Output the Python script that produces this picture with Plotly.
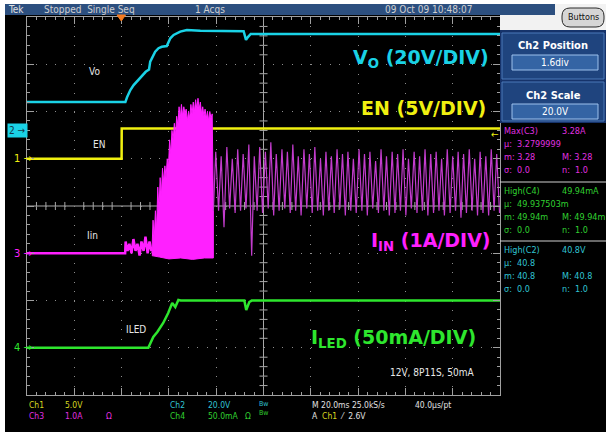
import plotly.graph_objects as go

# ---------------- data (time in ms, trigger at t = 0) ----------------
# Ch2 : Vo (V)
vo_t = [-40, 1.6, 2.3, 3.7, 5.1, 7.9, 10.2, 11.6, 12.1, 12.8, 14.2, 15.6, 17.0, 19.1,
        20.6, 22.0, 24.8, 27.6, 33.3, 51.6, 52.6, 53.4, 54.6, 160]
vo_v = [12.0, 12.0, 14.0, 17.1, 19.2, 22.5, 24.8, 25.8, 29.1, 30.5, 33.3, 34.8, 35.4, 35.7,
        39.0, 40.4, 41.8, 42.5, 42.2, 42.0, 38.3, 39.5, 40.8, 40.8]

# Ch1 : EN (V)
en_t = [-40, 0.0, 0.05, 160]
en_v = [0.0, 0.0, 3.2, 3.2]

# Ch4 : ILED (mA)
iled_t = [-40, 11.3, 13.4, 15.1, 17.6, 19.7, 21.4, 22.7, 24.0, 25.0, 51.9, 52.7, 54.0, 55.0, 160]
iled_ma = [0, 0, 11.4, 16.7, 26.2, 36.8, 47.3, 43.1, 50.5, 49.9, 49.9, 40.0, 48.4, 49.9, 49.9]

# Ch3 : Iin (A) -- baseline and pre-burst ripple
iin_pre_t = [-40, 1.5, 1.7, 2.5, 3.3, 4.2, 5.0, 5.9, 6.7, 7.6, 8.4, 9.3, 10.1, 11.0, 11.8, 12.6]
iin_pre_a = [0, 0, 0.25, 0.05, 0.2, 0.0, 0.3, 0.05, 0.2, -0.05, 0.25, 0.05, 0.35, 0.0, 0.25, 0.05]

# start-up burst: upper (spiky) envelope and lower envelope (A)
burst_t = [12.8, 13.3, 13.8, 14.3, 14.8, 15.3, 15.8, 16.3, 16.8, 17.3, 17.8, 18.3, 18.8,
           19.3, 19.8, 20.3, 20.8, 21.3, 21.8, 22.3, 22.8, 23.3, 23.8, 24.3, 24.8, 25.3,
           25.8, 26.3, 26.8, 27.3, 27.8, 28.3, 28.8, 29.3, 29.8, 30.3, 30.8, 31.3, 31.8,
           32.3, 32.8, 33.3, 33.8, 34.3, 34.8, 35.3, 35.8, 36.3, 36.8, 37.3, 37.8, 38.3, 38.8]
burst_hi = [0.0, 0.7, 0.3, 0.9, 0.5, 1.4, 0.9, 1.6, 1.2, 1.8, 1.5, 1.85, 1.6,
            2.0, 1.8, 2.4, 2.1, 2.6, 2.4, 2.75, 2.5, 2.9, 2.7, 3.1, 2.85, 3.15,
            2.9, 3.1, 2.95, 3.05, 2.8, 3.0, 2.85, 3.15, 2.95, 3.2, 3.0, 3.25, 3.05,
            3.28, 3.05, 3.2, 2.95, 3.1, 2.9, 3.05, 2.85, 3.0, 2.8, 3.0, 2.85, 2.95, 0.9]
burst_lo_t = [12.8, 16.0, 20.0, 25.0, 30.0, 35.0, 38.8]
burst_lo = [-0.05, -0.08, -0.12, -0.1, -0.13, -0.1, -0.1]

# steady switching ripple after the burst (A)
osc_peak_t = [39.8, 42.1, 44.5, 46.8, 49.1, 51.4, 53.8, 56.1, 58.4, 60.8, 63.1, 65.4, 67.8,
              70.1, 72.4, 74.7, 77.1, 79.4, 81.7, 84.1, 86.4, 88.7, 91.1, 93.4, 95.7, 98.0,
              100.4, 102.7, 105.0, 107.4, 109.7, 112.0, 114.4, 116.7, 119.0, 121.3, 123.7,
              126.0, 128.3, 130.7, 133.0, 135.3, 137.7, 140.0, 142.3, 144.6, 147.0, 149.3,
              151.6, 154.0, 156.3, 158.6]
osc_peak_a = [2.15, 2.05, 2.25, 2.0, 2.2, 2.1, 2.3, 2.05, 2.25, 2.15,
              2.35, 2.1, 2.2, 2.15, 2.3, 2.05, 2.2, 2.1, 2.25, 2.0,
              2.15, 2.05, 2.2, 2.1, 2.15, 2.0, 2.2, 2.1, 2.15, 1.95,
              2.2, 2.05, 2.15, 2.1, 2.2, 2.0, 2.15, 2.05, 2.2, 2.1,
              2.15, 2.0, 2.2, 2.05, 2.15, 2.1, 2.2, 2.0, 2.15, 2.05,
              2.2, 2.1]
osc_trough_t = [41.0, 43.3, 45.7, 48.0, 50.3, 52.6, 55.0, 57.3, 59.6, 62.0, 64.3, 66.6, 69.0,
                71.3, 73.6, 75.9, 78.3, 80.6, 82.9, 85.3, 87.6, 89.9, 92.3, 94.6, 96.9, 99.2,
                101.6, 103.9, 106.2, 108.6, 110.9, 113.2, 115.6, 117.9, 120.2, 122.5, 124.9,
                127.2, 129.5, 131.9, 134.2, 136.5, 138.9, 141.2, 143.5, 145.8, 148.2, 150.5,
                152.8, 155.2, 157.5, 159.8]
osc_trough_a = [0.9, 0.55, 0.95, 0.85, 0.9, 0.95, -0.05, 0.9, 0.85, 0.95,
                0.8, 0.9, 0.95, 0.85, 0.9, 0.8, 0.95, 0.85, 0.9, 0.8,
                0.9, 0.85, 0.95, 0.8, 0.9, 0.85, 0.9, 0.8, 0.95, 0.85,
                0.9, 0.8, 0.85, 0.9, 0.8, 0.95, 0.85, 0.9, 0.8, 0.85,
                0.9, 0.8, 0.85, 0.9, 0.75, 0.85, 0.9, 0.8, 0.85, 0.8,
                0.9, 0.85]

# measurement readouts
meas_rows = [
    ("Max(C3)", "3.28A", "μ:  3.2799999", "m: 3.28", "M: 3.28", "σ:  0.0", "n:  1.0", "#e030e0"),
    ("High(C4)", "49.94mA", "μ:  49.937503m", "m: 49.94m", "M: 49.94m", "σ:  0.0", "n:  1.0", "#30d030"),
    ("High(C2)", "40.8V", "μ:  40.8", "m: 40.8", "M: 40.8", "σ:  0.0", "n:  1.0", "#30c4d4"),
]

# ---------------- scope settings ----------------
T_RANGE = [-40, 160]          # 20 ms/div, 10 divisions
CH_SCALE = {"vo": 20.0, "en": 5.0, "iin": 1.0, "iled": 50.0}
CH_POS = {"vo": 1.6, "en": 1.0, "iin": -1.0, "iled": -3.0}

C_VO = "#1ad2e6"
C_EN = "#f0f010"
C_IIN = "#ff20ff"
C_IIN2 = "#c23ccc"
C_ILED = "#2ee62e"
T_YEL = "#d8d820"
T_MAG = "#e030e0"
T_CYA = "#30c4d4"
T_GRN = "#30d030"
GRID = "#8c8c8c"
NARROW = "Liberation Sans Narrow, DejaVu Sans Condensed, Liberation Sans, sans-serif"
BIG = "DejaVu Sans, Verdana, sans-serif"

W, H = 606, 432
L, R, T, B = 27, 500, 17, 395
PW, PH = R - L, B - T


def fx(x):
    return (x - L) / PW


def fy(y):
    return (B - y) / PH


def ch_range(ch):
    s, p = CH_SCALE[ch], CH_POS[ch]
    return [(-4 - p) * s, (4 - p) * s]


fig = go.Figure()

# Iin
fig.add_trace(go.Scatter(x=iin_pre_t, y=iin_pre_a, yaxis="y4", mode="lines",
                         line=dict(color=C_IIN, width=2.5)))
poly_x = burst_t + burst_lo_t[::-1]
poly_y = burst_hi + burst_lo[::-1]
fig.add_trace(go.Scatter(x=poly_x, y=poly_y, yaxis="y4", mode="lines", fill="toself",
                         fillcolor=C_IIN, line=dict(color=C_IIN, width=1)))
osc_x, osc_y = [38.8], [0.9]
for pt, pa, tt, ta in zip(osc_peak_t, osc_peak_a, osc_trough_t, osc_trough_a):
    osc_x += [pt, tt]
    osc_y += [pa, ta]
fig.add_trace(go.Scatter(x=osc_x, y=osc_y, yaxis="y4", mode="lines",
                         line=dict(color=C_IIN2, width=1.2)))
# ILED
fig.add_trace(go.Scatter(x=iled_t, y=iled_ma, yaxis="y5", mode="lines",
                         line=dict(color=C_ILED, width=2.5)))
# Vo
fig.add_trace(go.Scatter(x=vo_t, y=vo_v, yaxis="y2", mode="lines",
                         line=dict(color=C_VO, width=2.5)))
# EN
fig.add_trace(go.Scatter(x=en_t, y=en_v, yaxis="y3", mode="lines",
                         line=dict(color=C_EN, width=2.5)))

hidden = dict(overlaying="y", visible=False, fixedrange=True)
fig.update_layout(
    width=W, height=H, showlegend=False,
    margin=dict(l=L, r=W - R, t=T, b=H - B, pad=0),
    paper_bgcolor="black", plot_bgcolor="black",
    xaxis=dict(range=T_RANGE, dtick=20, tick0=-40, showgrid=True, gridcolor=GRID,
               griddash="1px,8.46px", gridwidth=1, zeroline=False,
               showline=True, linecolor="#a0a0a0", linewidth=1, mirror="ticks",
               ticks="inside", ticklen=7, tickcolor="#a0a0a0", showticklabels=False,
               minor=dict(dtick=4, tick0=-40, ticks="inside", ticklen=3, tickcolor="#a0a0a0")),
    yaxis=dict(range=[-4, 4], dtick=1, tick0=-4, showgrid=True, gridcolor=GRID,
               griddash="1px,8.46px", gridwidth=1, zeroline=False,
               showline=True, linecolor="#a0a0a0", linewidth=1, mirror="ticks",
               ticks="inside", ticklen=7, tickcolor="#a0a0a0", showticklabels=False,
               minor=dict(dtick=0.2, tick0=-4, ticks="inside", ticklen=3, tickcolor="#a0a0a0")),
    yaxis2=dict(range=ch_range("vo"), **hidden),
    yaxis3=dict(range=ch_range("en"), **hidden),
    yaxis4=dict(range=ch_range("iin"), **hidden),
    yaxis5=dict(range=ch_range("iled"), **hidden),
)

shapes = []
# center cross
shapes.append(dict(type="line", xref="x", yref="y", x0=60, x1=60, y0=-4, y1=4,
                   line=dict(color="#a8a8a8", width=1), layer="below"))
shapes.append(dict(type="line", xref="x", yref="y", x0=-40, x1=160, y0=0, y1=0,
                   line=dict(color="#a8a8a8", width=1), layer="below"))
for k in range(-20, 21):
    if k % 5 == 0:
        continue
    shapes.append(dict(type="line", xref="x", yref="y", x0=58.3, x1=61.7, y0=k * 0.2, y1=k * 0.2,
                       line=dict(color="#a8a8a8", width=1), layer="below"))
for j in range(51):
    if j % 5 == 0:
        continue
    t = -40 + 4 * j
    shapes.append(dict(type="line", xref="x", yref="y", x0=t, x1=t, y0=-0.085, y1=0.085,
                       line=dict(color="#a8a8a8", width=1), layer="below"))


def rect(x0, y0, x1, y1, fill, line=None, lw=0):
    shapes.append(dict(type="rect", xref="paper", yref="paper",
                       x0=fx(x0), x1=fx(x1), y0=fy(y1), y1=fy(y0),
                       fillcolor=fill, line=dict(color=line or fill, width=lw)))


def rounded(x0, y0, x1, y1, r, fill, line, lw=1):
    p = (f"M {fx(x0 + r)},{fy(y0)} L {fx(x1 - r)},{fy(y0)} Q {fx(x1)},{fy(y0)} {fx(x1)},{fy(y0 + r)} "
         f"L {fx(x1)},{fy(y1 - r)} Q {fx(x1)},{fy(y1)} {fx(x1 - r)},{fy(y1)} "
         f"L {fx(x0 + r)},{fy(y1)} Q {fx(x0)},{fy(y1)} {fx(x0)},{fy(y1 - r)} "
         f"L {fx(x0)},{fy(y0 + r)} Q {fx(x0)},{fy(y0)} {fx(x0 + r)},{fy(y0)} Z")
    shapes.append(dict(type="path", xref="paper", yref="paper", path=p,
                       fillcolor=fill, line=dict(color=line, width=lw)))


# frame / chrome
rect(0, 0, 5, H, "#ffffff")
rect(0, 0, W, 4, "#ffffff")
rect(500, 4, W, 30, "#f2f2f2")
rect(5, 4, 555, 15, "#2c4f7f")
rounded(562, 8, 604, 27, 8, "#d6d6d6", "#2a2a2a", 1)
rect(500, 30, W, 123, "#16336a")
rect(502, 33, 604, 79, "#1f447e", "#4a78b8", 1)
rect(502, 82, 604, 121, "#1f447e", "#4a78b8", 1)
rect(512, 55, 598, 70, "#3464a4", "#9cc0ec", 1)
rect(512, 104, 598, 119, "#3464a4", "#9cc0ec", 1)
# measurement dividers
for yy in (182, 241):
    shapes.append(dict(type="line", xref="paper", yref="paper", x0=fx(500), x1=fx(606),
                       y0=fy(yy), y1=fy(yy), line=dict(color="#d0d0d0", width=1)))
# trigger position marker
shapes.append(dict(type="path", xref="paper", yref="paper",
                   path=f"M {fx(117)},{fy(15)} L {fx(125.5)},{fy(15)} L {fx(121.3)},{fy(21)} Z",
                   fillcolor="#f47b20", line=dict(color="#f47b20", width=1)))
fig.update_layout(shapes=shapes)

anns = []


def ann(x, y, text, color, size, xanchor="left", family=NARROW, **kw):
    anns.append(dict(xref="paper", yref="paper", x=fx(x), y=fy(y), text=text,
                     showarrow=False, xanchor=xanchor, yanchor="middle", align="left",
                     font=dict(color=color, size=size, family=family), **kw))


def span(text, color):
    return f"<span style='color:{color}'>{text}</span>"


# top bar
ann(6, 9.5, "Tek", "#e0e0e0", 10)
ann(42, 9.5, "Stopped  Single Seq", "#d0d0d0", 10)
ann(193, 9.5, "1 Acqs", "#d0d0d0", 10)
ann(383, 9.5, "09 Oct 09 10:48:07", "#d0d0d0", 10)
ann(583, 17.5, "Buttons", "#111111", 9, xanchor="center")
# right panel
ann(553, 45, "<b>Ch2 Position</b>", "#ffffff", 11, xanchor="center")
ann(555, 62.5, "1.6div", "#ffffff", 10, xanchor="center")
ann(553, 95, "<b>Ch2 Scale</b>", "#ffffff", 11, xanchor="center")
ann(555, 111.5, "20.0V", "#ffffff", 10, xanchor="center")
# measurements
MS = 9
y0s = [131, 191, 250]
for (name, val, mu, mm, MM, sg, nn, col), y0 in zip(meas_rows, y0s):
    ann(502, y0, name, col, MS)
    ann(560, y0, val, col, MS)
    ann(502, y0 + 13, mu, col, MS)
    ann(502, y0 + 26, mm, col, MS)
    ann(560, y0 + 26, MM, col, MS)
    ann(502, y0 + 39, sg, col, MS)
    ann(560, y0 + 39, nn, col, MS)

# channel ground markers
anns.append(dict(xref="paper", yref="paper", x=fx(7), y=fy(130.4), text="2 →", showarrow=False,
                 xanchor="left", yanchor="middle", bgcolor=C_VO, borderpad=1,
                 font=dict(color="#14384a", size=10, family=NARROW)))
ann(12, 158.75, "1 →", C_EN, 11)
ann(12, 253.25, "3 →", C_IIN, 11)
ann(12, 347.75, "4 →", C_ILED, 11)
ann(489, 134, "←", C_EN, 10)

# trace names
ann(94, 71, "Vo", "#e8e8e8", 10, xanchor="center")
ann(99, 144, "EN", "#e8e8e8", 10, xanchor="center")
ann(92, 235, "Iin", "#e8e8e8", 10, xanchor="center")
ann(136, 329, "ILED", "#e8e8e8", 10, xanchor="center")
ann(432, 372, "12V, 8P11S, 50mA", "#e8e8e8", 10, xanchor="center")

# big channel labels
ann(491, 58, "<b>V<sub>O</sub> (20V/DIV)</b>", C_VO, 19, xanchor="right", family=BIG)
ann(488, 108, "<b>EN (5V/DIV)</b>", C_EN, 19, xanchor="right", family=BIG)
ann(493, 241, "<b>I<sub>IN</sub> (1A/DIV)</b>", C_IIN, 19, xanchor="right", family=BIG)
ann(478, 338, "<b>I<sub>LED</sub> (50mA/DIV)</b>", C_ILED, 19, xanchor="right", family=BIG)

# bottom readout (two lines per column)
BS = 8.5
BY = 410
ann(27, BY, span("Ch1", T_YEL) + "<br>" + span("Ch3", T_MAG), "#e0e0e0", BS)
ann(63, BY, span("5.0V", T_YEL) + "<br>" + span("1.0A", T_MAG), "#e0e0e0", BS)
ann(104, BY, " <br>" + span("Ω", T_MAG), "#e0e0e0", BS)
ann(168, BY, span("Ch2", T_CYA) + "<br>" + span("Ch4", T_GRN), "#e0e0e0", BS)
ann(206, BY, span("20.0V", T_CYA) + "<br>" + span("50.0mA", T_GRN), "#e0e0e0", BS)
ann(243, BY, " <br>" + span("Ω", T_GRN), "#e0e0e0", BS)
ann(257, BY - 2, span("Bw", T_CYA) + "<br>" + span("Bw", T_GRN), "#e0e0e0", 7)
ann(310, BY, "M 20.0ms 25.0kS/s<br>A  " + span("Ch1", T_YEL) + "  ⁄  2.6V", "#e0e0e0", BS)
ann(413, BY, "40.0µs/pt<br> ", "#e0e0e0", BS)

fig.update_layout(annotations=anns)
fig.write_html("out.html", config={"displayModeBar": False},
               post_script="document.body.style.margin='0px';document.body.style.padding='0px';")
